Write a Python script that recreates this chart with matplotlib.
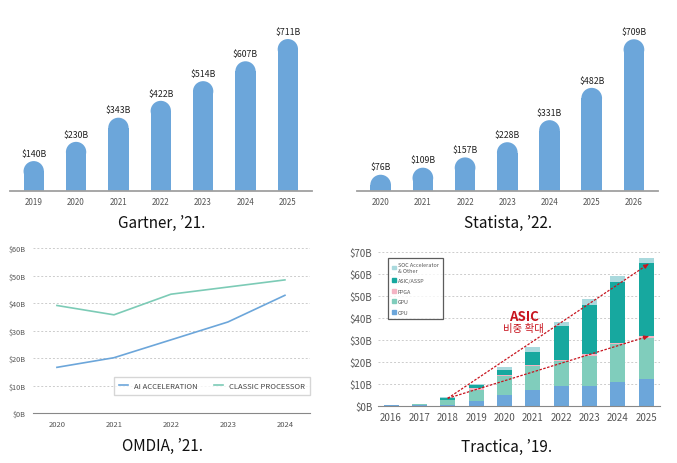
import numpy as np
import matplotlib.pyplot as plt
from matplotlib.patches import Ellipse, Patch

plt.rcParams['font.family'] = ['Noto Sans CJK KR', 'DejaVu Sans']

# ---- data ----
gartner_years = ['2019', '2020', '2021', '2022', '2023', '2024', '2025']
gartner_vals = [140, 230, 343, 422, 514, 607, 711]

statista_years = ['2020', '2021', '2022', '2023', '2024', '2025', '2026']
statista_vals = [76, 109, 157, 228, 331, 482, 709]

omdia_years = [2020, 2021, 2022, 2023, 2024]
omdia_ai = [16.6, 20.1, 26.6, 33.1, 42.8]
omdia_classic = [39.1, 35.7, 43.2, 45.8, 48.4]

tractica_years = [2016, 2017, 2018, 2019, 2020, 2021, 2022, 2023, 2024, 2025]
tr_cpu = [0.3, 0.5, 0.6, 2.4, 5.2, 7.3, 9.1, 9.1, 10.9, 12.1]
tr_gpu = [0.2, 0.4, 2.1, 4.9, 8.4, 10.7, 11.5, 13.8, 17.1, 19.0]
tr_fpga = [0.0, 0.0, 0.0, 0.9, 0.6, 0.6, 0.4, 0.7, 0.8, 0.9]
tr_asic = [0.0, 0.0, 0.8, 1.5, 2.3, 5.9, 15.5, 22.3, 27.7, 32.8]
tr_soc = [0.1, 0.2, 0.4, 0.5, 1.2, 2.3, 1.8, 2.7, 2.6, 2.5]

BAR_BLUE = '#6CA6DA'
fig = plt.figure(figsize=(6.77, 4.64), dpi=100)
FIG_H = 464


def rounded_bars(ax, labels, vals, ymax, width):
    x = np.arange(len(vals))
    ax.set_xlim(-0.56, len(vals) - 0.43)
    ax.set_ylim(0, ymax)
    h_px = ax.get_position().height * FIG_H
    w_px = ax.get_position().width * 677
    xrange_ = ax.get_xlim()[1] - ax.get_xlim()[0]
    r_px = width / xrange_ * w_px / 2
    r_data = r_px * ymax / h_px
    for xi, v in zip(x, vals):
        ax.bar(xi, v - r_data, width=width, color=BAR_BLUE, lw=0)
        ax.add_patch(Ellipse((xi, v - r_data), width, 2 * r_data,
                             color=BAR_BLUE, lw=0))
        ax.text(xi, v + ymax * 0.02, '${}B'.format(v), ha='center',
                va='bottom', fontsize=6.3, color='#222222')
    ax.set_xticks(x)
    ax.set_xticklabels(labels, fontsize=5.8, color='#555555')
    ax.tick_params(length=0, pad=4)
    ax.set_yticks([])
    for s in ['top', 'right', 'left']:
        ax.spines[s].set_visible(False)
    ax.spines['bottom'].set_color('#a0a0a0')
    ax.spines['bottom'].set_linewidth(1.3)


# ---- Gartner ----
ax1 = fig.add_axes([10 / 677, 1 - 192 / FIG_H, 302 / 677, 162 / FIG_H])
rounded_bars(ax1, gartner_years, gartner_vals, 758, 0.48)

# ---- Statista ----
ax2 = fig.add_axes([357 / 677, 1 - 192 / FIG_H, 301 / 677, 162 / FIG_H])
rounded_bars(ax2, statista_years, statista_vals, 757, 0.49)

# ---- OMDIA ----
ax3 = fig.add_axes([33 / 677, 1 - 414 / FIG_H, 277 / 677, 165 / FIG_H])
ax3.plot(omdia_years, omdia_ai, color='#6CA6DA', lw=1.2, label='AI ACCELERATION')
ax3.plot(omdia_years, omdia_classic, color='#7CCBB6', lw=1.2, label='CLASSIC PROCESSOR')
ax3.set_xlim(2020 - 0.42, 2024 + 0.44)
ax3.set_ylim(0, 60)
ax3.set_yticks(range(0, 61, 10))
ax3.set_yticklabels(['${}B'.format(v) for v in range(0, 61, 10)],
                    fontsize=5.3, color='#555555')
ax3.set_xticks(omdia_years)
ax3.set_xticklabels([str(y) for y in omdia_years], fontsize=5.5, color='#555555')
ax3.tick_params(length=0, pad=5)
ax3.grid(axis='y', ls=(0, (2, 2)), color='#cccccc', lw=0.7)
for s in ['top', 'right', 'left']:
    ax3.spines[s].set_visible(False)
ax3.spines['bottom'].set_color('#888888')
ax3.set_axisbelow(True)
leg = ax3.legend(loc='center', bbox_to_anchor=(212 / 677, 1 - 387 / FIG_H),
                 bbox_transform=fig.transFigure, ncol=2, fontsize=5.5,
                 fancybox=False, edgecolor='#cccccc', handlelength=1.2,
                 columnspacing=2.2, borderpad=0.6)
for t in leg.get_texts():
    t.set_color('#444444')

# ---- Tractica ----
ax4 = fig.add_axes([378 / 677, 1 - 407 / FIG_H, 282 / 677, 154 / FIG_H])
series = [('CPU', tr_cpu, '#6CA6DA'), ('GPU', tr_gpu, '#80CDBC'),
          ('FPGA', tr_fpga, '#F4B4C4'), ('ASIC/ASSP', tr_asic, '#17A89F'),
          ('SOC Accelerator\n& Other', tr_soc, '#A9D9DD')]
bottom = np.zeros(len(tractica_years))
cums = {}
for name, vals, col in series:
    ax4.bar(tractica_years, vals, bottom=bottom, width=0.53, color=col,
            lw=0)
    bottom = bottom + np.array(vals)
    cums[name] = bottom.copy()
ax4.set_xlim(2016 - 0.46, 2025 + 0.49)
ax4.set_ylim(0, 70)
ax4.set_yticks(range(0, 71, 10))
ax4.set_yticklabels(['${}B'.format(v) for v in range(0, 71, 10)],
                    fontsize=7, color='#555555')
ax4.set_xticks(tractica_years)
ax4.set_xticklabels([str(y) for y in tractica_years], fontsize=7,
                    color='#555555')
ax4.tick_params(length=0, pad=4)
ax4.grid(axis='y', ls=(0, (2, 2)), color='#cccccc', lw=0.7)
ax4.set_axisbelow(True)
for s in ['top', 'right', 'left']:
    ax4.spines[s].set_visible(False)
ax4.spines['bottom'].set_color('#888888')

handles = [Patch(color=col, label=name) for name, vals, col in series[::-1]]
leg4 = ax4.legend(handles=handles, loc='upper left',
                  bbox_to_anchor=(385 / 677, 1 - 256 / FIG_H),
                  bbox_transform=fig.transFigure, fontsize=3.9,
                  fancybox=False, edgecolor='#333333', handlelength=0.7,
                  handleheight=0.7, handletextpad=0.4, labelspacing=1.0,
                  borderpad=0.8)
leg4.get_frame().set_linewidth(0.9)
for t in leg4.get_texts():
    t.set_color('#555555')

# arrows showing growing ASIC share
RED = '#C8141E'
i0 = tractica_years.index(2018)
start = (tractica_years[i0], cums['SOC Accelerator\n& Other'][i0] - 0.4)
for key in ['ASIC/ASSP', 'FPGA']:
    end = (tractica_years[-1] + 0.08, cums[key][-1] - 0.3)
    ax4.plot([start[0], end[0]], [start[1], end[1]], color=RED, lw=0.9,
             ls=(0, (2, 1.2)))
    ax4.annotate('', xy=end, xytext=(end[0] - 0.15, end[1] - (end[1] - start[1]) * 0.15 / (end[0] - start[0])),
                 arrowprops=dict(arrowstyle='-|>', color=RED, lw=0.9,
                                 mutation_scale=6))
ax4.text(2020.68, 40.8, 'ASIC', color=RED, fontsize=9.5, fontweight='bold',
         ha='center', va='center')
ax4.text(2020.66, 35.3, '비중 확대', color=RED, fontsize=7.5,
         ha='center', va='center')

# ---- captions ----
cap = dict(ha='center', va='center', fontsize=11, color='#111111',
           fontweight='light')
fig.text(162 / 677, 1 - 223 / FIG_H, 'Gartner, ’21.', **cap)
fig.text(508 / 677, 1 - 223 / FIG_H, 'Statista, ’22.', **cap)
fig.text(162 / 677, 1 - 446 / FIG_H, 'OMDIA, ’21.', **cap)
fig.text(507 / 677, 1 - 447 / FIG_H, 'Tractica, ’19.', **cap)

fig.savefig('out.png', dpi=100)
